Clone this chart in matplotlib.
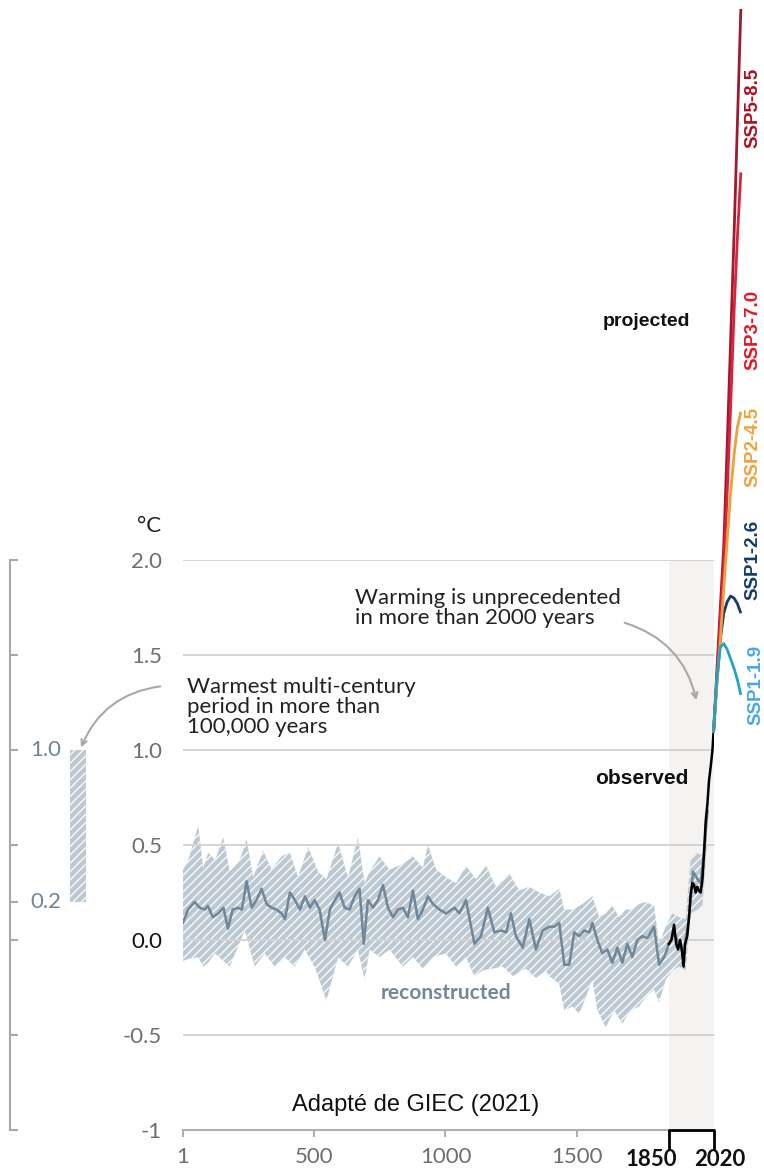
import matplotlib
matplotlib.use('Agg')
import matplotlib.pyplot as plt
import matplotlib.transforms as mtransforms
import numpy as np

W, H = 764, 1176

# --- reconstructed median (year, degC) ---
recon_years = [1, 20, 45, 65, 85, 95, 115, 135, 155, 172, 190, 210, 225, 243, 262, 281, 300,
               319, 338, 357, 376, 389, 408, 427, 446, 465, 484, 502, 521, 541, 560, 579, 597,
               616, 635, 654, 673, 689, 705, 724, 743, 762, 781, 800, 819, 838, 857, 876, 895,
               914, 933, 952, 977, 1002, 1034, 1053, 1078, 1110, 1135, 1161, 1186, 1212, 1231,
               1249, 1268, 1294, 1319, 1344, 1370, 1395, 1414, 1433, 1452, 1471, 1490, 1509,
               1528, 1547, 1559, 1578, 1597, 1616, 1635, 1654, 1673, 1692, 1711, 1730, 1749,
               1768, 1794, 1813, 1832, 1851, 1870, 1889, 1908, 1927, 1942, 1959, 1971, 1984, 1997]
recon_vals = [0.09, 0.16, 0.20, 0.17, 0.16, 0.18, 0.12, 0.14, 0.17, 0.06, 0.16, 0.17, 0.16, 0.31,
              0.17, 0.21, 0.27, 0.19, 0.17, 0.16, 0.14, 0.11, 0.25, 0.21, 0.16, 0.23, 0.17, 0.21,
              0.16, 0.00, 0.16, 0.21, 0.25, 0.17, 0.16, 0.23, 0.27, -0.02, 0.21, 0.17, 0.21, 0.29,
              0.17, 0.12, 0.16, 0.17, 0.12, 0.26, 0.11, 0.16, 0.23, 0.19, 0.16, 0.14, 0.17, 0.14,
              0.21, -0.02, 0.02, 0.17, 0.04, 0.05, 0.04, 0.14, 0.02, -0.04, 0.11, -0.05, 0.05,
              0.07, 0.07, 0.09, -0.13, -0.13, 0.04, 0.02, 0.05, 0.04, 0.09, 0.00, -0.07, -0.05,
              -0.12, -0.04, -0.12, -0.02, -0.09, 0.00, 0.02, 0.01, 0.07, -0.13, -0.09, -0.02,
              0.04, -0.02, -0.05, 0.12, 0.36, 0.32, 0.30, 0.46, 0.68]

# --- reconstructed uncertainty band ---
upper_years = [1, 21, 59, 78, 97, 123, 154, 179, 217, 243, 268, 306, 338, 376, 408, 439, 477,
               515, 547, 591, 629, 667, 692, 711, 749, 787, 838, 876, 914, 933, 965, 1002, 1040,
               1078, 1116, 1155, 1192, 1243, 1281, 1319, 1357, 1395, 1433, 1452, 1484, 1522,
               1559, 1585, 1610, 1635, 1661, 1686, 1711, 1737, 1762, 1794, 1813, 1838, 1863,
               1889, 1914, 1933, 1959, 1978, 1995]
upper_vals = [0.37, 0.42, 0.60, 0.38, 0.46, 0.42, 0.54, 0.36, 0.42, 0.53, 0.33, 0.47, 0.37, 0.44,
              0.46, 0.33, 0.49, 0.36, 0.32, 0.51, 0.33, 0.54, 0.30, 0.36, 0.44, 0.37, 0.40, 0.44,
              0.38, 0.50, 0.37, 0.33, 0.30, 0.39, 0.32, 0.39, 0.28, 0.35, 0.26, 0.28, 0.25, 0.23,
              0.27, 0.16, 0.16, 0.19, 0.23, 0.12, 0.14, 0.18, 0.12, 0.16, 0.16, 0.19, 0.20, 0.18,
              -0.02, 0.07, 0.14, 0.12, 0.11, 0.42, 0.46, 0.44, 0.66]
lower_years = [1, 21, 59, 78, 97, 123, 154, 179, 236, 274, 312, 350, 388, 426, 464, 502, 547,
               591, 629, 667, 692, 711, 749, 787, 838, 876, 914, 952, 1002, 1040, 1078, 1110,
               1142, 1180, 1218, 1256, 1306, 1344, 1382, 1395, 1433, 1452, 1484, 1509, 1534,
               1559, 1578, 1610, 1642, 1673, 1705, 1737, 1762, 1794, 1813, 1838, 1863, 1889,
               1914, 1933, 1959, 1978, 1995]
lower_vals = [-0.11, -0.10, -0.09, -0.14, -0.12, -0.07, -0.11, -0.14, 0.05, -0.14, -0.07, -0.14,
              -0.09, -0.14, -0.05, -0.14, -0.32, -0.09, -0.14, -0.05, -0.21, -0.05, -0.09, -0.05,
              -0.14, -0.09, -0.15, -0.09, -0.07, -0.14, -0.09, -0.19, -0.16, -0.15, -0.14, -0.19,
              -0.15, -0.20, -0.16, -0.19, -0.23, -0.37, -0.35, -0.39, -0.30, -0.21, -0.37, -0.46,
              -0.37, -0.44, -0.37, -0.35, -0.30, -0.26, -0.33, -0.21, -0.16, -0.14, -0.16, 0.14,
              0.16, 0.18, 0.50]

# --- observed ---
obs_years = [1850, 1860, 1870, 1878, 1885, 1893, 1900, 1906, 1912, 1920, 1927, 1933, 1940, 1946,
             1952, 1958, 1964, 1971, 1978, 1984, 1990, 1997, 2003, 2010, 2016, 2020]
obs_vals = [-0.02, 0.00, 0.08, -0.02, -0.05, 0.00, -0.06, -0.14, -0.02, 0.02, 0.12, 0.24, 0.30,
            0.29, 0.25, 0.28, 0.26, 0.25, 0.32, 0.46, 0.62, 0.72, 0.84, 0.92, 1.00, 1.09]

# --- projections ---
proj_years = [2020, 2030, 2040, 2050, 2060, 2070, 2080, 2090, 2100]
ssp585 = [1.09, 1.42, 1.75, 2.07, 2.60, 3.15, 3.70, 4.30, 4.90]
ssp370 = [1.09, 1.38, 1.70, 1.97, 2.35, 2.80, 3.30, 3.70, 4.04]
ssp245 = [1.09, 1.35, 1.58, 1.85, 2.10, 2.35, 2.55, 2.70, 2.78]
ssp126 = [1.09, 1.36, 1.58, 1.72, 1.78, 1.81, 1.80, 1.77, 1.72]
ssp119 = [1.09, 1.38, 1.54, 1.56, 1.53, 1.48, 1.43, 1.37, 1.29]

# warmest multi-century period (100,000 yr)
warm_lo, warm_hi = 0.2, 1.0

ytick_vals = [-1, -0.5, 0, 0.5, 1.0, 1.5, 2.0]
ytick_labels = ['-1', '-0.5', '0.0', '0.5', '1.0', '1.5', '2.0']
xtick_vals = [1, 500, 1000, 1500]
xtick_labels = ['1', '500', '1000', '1500']
period_start, period_end = 1850, 2020

GREY_TXT = '#6e6e6e'
BAND = '#bcc9d2'
RECON = '#6f8798'
plt.rcParams['hatch.linewidth'] = 0.9


def fx(px):
    return px / W


def fy(py):
    return 1 - py / H


fig = plt.figure(figsize=(W / 100, H / 100), dpi=100)
ax = fig.add_axes([fx(183), fy(1130), 530.5 / W, 570 / H])


# the projection period is drawn a bit wider than the historical one
K = 1.3
def fwd(x):
    x = np.asarray(x, dtype=float)
    return np.where(x <= 2020, x, 2020 + (x - 2020) * K)


def inv(x):
    x = np.asarray(x, dtype=float)
    return np.where(x <= 2020, x, 2020 + (x - 2020) / K)


ax.set_xscale('function', functions=(fwd, inv))
ax.set_xlim(1, 2020)
ax.set_ylim(-1, 2)

ax.axvspan(period_start, period_end, color='#f4f3f1', zorder=0, lw=0)
for v in ytick_vals[1:]:
    ax.axhline(v, color='#d4d4d4', lw=1.4, zorder=2)

# band
bx = upper_years + lower_years[::-1]
by = upper_vals + lower_vals[::-1]
ax.fill(bx, by, facecolor=BAND, edgecolor='white', hatch='////', lw=0, zorder=1)
ax.plot(recon_years, recon_vals, color=RECON, lw=1.8, zorder=3)
ax.plot(obs_years, obs_vals, color='black', lw=1.8, zorder=4)

# projections
for vals, col in [(ssp126, '#1b3a63'), (ssp585, '#9e1a30'), (ssp370, '#e0203a'),
                  (ssp245, '#eba23a'), (ssp119, '#22a6c0')]:
    ax.plot(proj_years, vals, color=col, lw=2.0, clip_on=False, zorder=5,
            solid_capstyle='butt')

# axes styling
for s in ['left', 'right', 'top']:
    ax.spines[s].set_visible(False)
ax.spines['bottom'].set_bounds(1, period_start)
ax.spines['bottom'].set_color('#b0b0b0')
ax.spines['bottom'].set_linewidth(1.5)
ax.set_yticks(ytick_vals)
ax.set_yticklabels(ytick_labels, family='Lato', fontsize=16, color=GREY_TXT)
ax.get_yticklabels()[2].set_color('#111111')
ax.tick_params(axis='y', length=0, pad=15)
ax.set_xticks(xtick_vals)
ax.set_xticklabels(xtick_labels, family='Lato', fontsize=16, color=GREY_TXT)
ax.tick_params(axis='x', length=5, width=1.5, color='#b0b0b0', pad=7)

# bracket 1850-2020 with its bold labels
xt = ax.get_xaxis_transform()
ax.plot([period_start, period_start, period_end, period_end], [-0.032, 0, 0, -0.032],
        color='black', lw=2, transform=xt, clip_on=False, zorder=6)
for yr, dx in [(period_start, -18), (period_end, 6)]:
    tr = mtransforms.offset_copy(xt, fig=fig, x=dx / 100, y=0, units='inches')
    ax.text(yr, -0.052, str(yr), transform=tr, ha='center', va='center', family='Lato',
            fontweight='bold', fontsize=16, color='#111111', clip_on=False)

# left mini axis
ax2 = fig.add_axes([fx(10), fy(1130), 90 / W, 570 / H])
ax2.set_ylim(-1, 2)
ax2.set_xlim(0, 90)
ax2.patch.set_alpha(0)
for s in ['right', 'top', 'bottom']:
    ax2.spines[s].set_visible(False)
ax2.spines['left'].set_color('#a8a8a8')
ax2.spines['left'].set_linewidth(1.5)
ax2.set_xticks([])
ax2.set_yticks(ytick_vals + [warm_lo])
ax2.tick_params(axis='y', direction='in', length=6, width=1.5, color='#a8a8a8',
                labelleft=False)
ax2.bar(68, warm_hi - warm_lo, bottom=warm_lo, width=16, facecolor=BAND,
        edgecolor='white', hatch='////', lw=0)
for v in (warm_lo, warm_hi):
    ax2.text(36, v, f'{v:.1f}', ha='center', va='center', family='Lato', fontsize=16,
             color='#6f8597')

# texts
fig.text(fx(149), fy(526), '°C', ha='center', va='center', family='Lato', fontsize=16,
         color='#222222')
fig.text(fx(187), fy(707), 'Warmest multi-century\nperiod in more than\n100,000 years',
         ha='left', va='center', family='Lato', fontsize=16, color='#222222',
         linespacing=1.0)
fig.text(fx(355), fy(608), 'Warming is unprecedented\nin more than 2000 years',
         ha='left', va='center', family='Lato', fontsize=16, color='#222222',
         linespacing=1.05)
fig.text(fx(446), fy(993), 'reconstructed', ha='center', va='center', family='Lato',
         fontweight='bold', fontsize=15, color='#73889a')
fig.text(fx(642), fy(778), 'observed', ha='center', va='center',
         family='Liberation Sans', fontweight='bold', fontsize=15, color='#111111')
fig.text(fx(646), fy(322), 'projected', ha='center', va='center',
         family='Liberation Sans', fontweight='bold', fontsize=14, color='#111111')
fig.text(fx(416), fy(1105), 'Adapté de GIEC (2021)', ha='center', va='center',
         family='Liberation Sans', fontsize=17, color='#111111')

for txt, col, x, y in [('SSP5-8.5', '#b0101e', 753, 108), ('SSP3-7.0', '#e8141f', 753, 330),
                       ('SSP2-4.5', '#eea43a', 753, 447), ('SSP1-2.6', '#103c70', 753, 560),
                       ('SSP1-1.9', '#4aa6ea', 756, 685)]:
    fig.text(fx(x), fy(y), txt, rotation=90, ha='center', va='center',
             family='Liberation Sans', fontweight='bold', fontsize=13.5, color=col)

# arrows
ax.annotate('', xy=(fx(80), fy(750)), xytext=(fx(163), fy(686)),
            xycoords='figure fraction', textcoords='figure fraction',
            arrowprops=dict(arrowstyle='->', color='#a8a8a8', lw=1.5,
                            connectionstyle='arc3,rad=0.3'))
ax.annotate('', xy=(fx(697), fy(703)), xytext=(fx(622), fy(622)),
            xycoords='figure fraction', textcoords='figure fraction',
            arrowprops=dict(arrowstyle='->', color='#a8a8a8', lw=1.5,
                            connectionstyle='arc3,rad=-0.3'))

fig.savefig('out.png', dpi=100)
